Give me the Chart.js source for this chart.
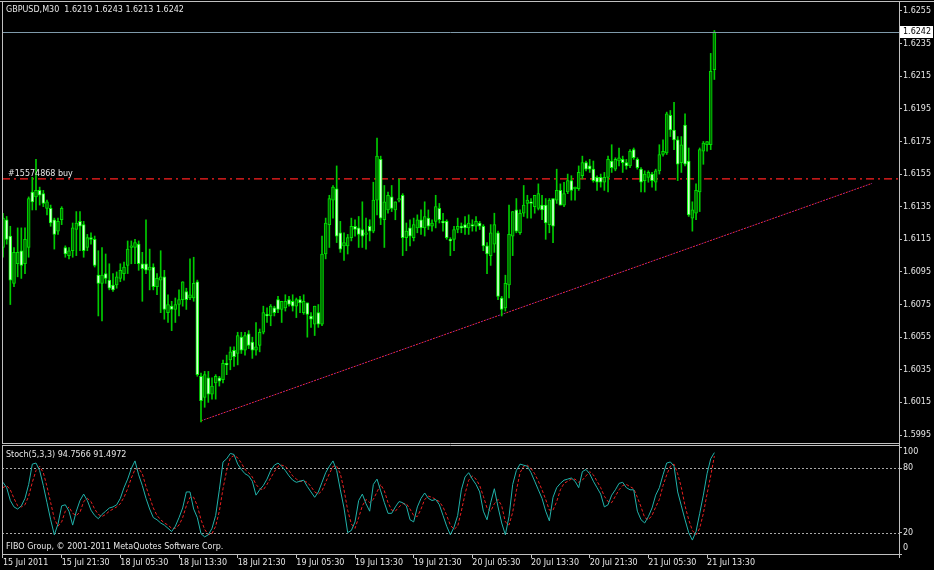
<!DOCTYPE html>
<html>
<head>
<meta charset="utf-8">
<title>GBPUSD,M30</title>
<script src="https://cdn.jsdelivr.net/npm/chart.js@4.4.1/dist/chart.umd.min.js"></script>
<style>
  html, body { margin: 0; padding: 0; background: #000; }
  #wrap { position: relative; width: 934px; height: 570px; background: #000; overflow: hidden; }
  #mainChart { position: absolute; left: 0; top: 0; }
  #stochChart { position: absolute; left: 0; top: 444px; }
</style>
</head>
<body>
<div id="wrap">
  <canvas id="mainChart" width="934" height="444"></canvas>
  <canvas id="stochChart" width="934" height="126"></canvas>
</div>
<script>
// ===== DATA =====
// prices are in pips above 1.6000 (1 pip = 0.0001), one entry per M30 bar
const SYMBOL = "GBPUSD,M30";
const BASE = 1.6;

const OPEN = [
  110,127,117,88,100,108,100,110,144,141,
  145,143,134,134,127,120,127,110,105,108,
  121,126,124,110,116,115,93,88,94,90,
  87,87,91,94,99,110,110,112,100,100,
  96,98,86,90,92,70,74,72,75,78,
  83,79,79,89,31,18,30,20,27,30,
  29,39,41,47,45,55,47,57,52,47,
  50,58,69,68,73,78,72,73,78,77,
  74,78,70,76,68,63,70,63,106,124,
  139,146,119,111,111,116,123,122,121,118,
  123,120,139,164,127,133,141,133,139,142,
  116,122,116,122,127,122,128,123,126,134,
  126,126,115,115,121,123,124,122,124,123,
  125,123,111,105,112,119,79,73,87,117,
  133,119,131,137,138,135,134,136,136,124,
  140,139,145,136,144,151,146,146,154,162,
  160,158,153,153,150,153,163,158,163,164,
  162,160,170,164,158,151,153,155,150,157,
  167,168,191,182,176,162,185,163,128,131,
  144,169,173,173,219
];
const HIGH = [
  131,129,123,110,122,122,122,141,153,164,
  147,145,139,136,128,128,135,111,110,125,
  132,132,126,118,119,117,108,110,106,100,
  94,95,100,101,114,114,115,114,107,127,
  109,100,94,108,96,81,77,79,84,89,
  85,103,104,90,33,34,34,30,32,31,
  41,44,49,49,58,58,58,59,55,64,
  60,74,73,75,74,80,77,81,80,81,
  79,80,81,76,70,74,75,117,128,142,
  148,160,126,119,118,128,127,129,138,128,
  127,150,177,166,148,144,148,138,152,143,
  125,127,128,130,133,138,133,127,142,137,
  131,127,116,123,128,125,129,130,127,129,
  126,124,113,124,131,120,80,93,136,132,
  140,133,148,142,140,142,149,142,140,140,
  140,158,149,150,155,154,147,160,166,163,
  164,163,154,155,156,166,173,165,171,166,
  164,170,171,165,159,157,157,156,158,173,
  176,193,194,199,178,178,192,171,138,149,
  171,175,175,229,243
];
const LOW = [
  104,112,75,86,92,91,94,104,133,133,
  136,135,130,123,109,118,124,104,103,104,
  105,108,104,108,112,98,68,65,88,84,
  83,85,89,90,94,100,100,96,77,94,
  84,84,81,70,66,64,59,64,68,74,
  72,78,77,31,3,12,15,17,17,25,
  27,32,35,37,38,45,44,48,42,44,
  46,57,64,62,68,70,64,71,74,71,
  67,70,69,55,61,56,61,62,103,110,
  128,113,107,102,106,114,117,110,110,109,
  114,119,130,124,110,131,132,127,138,105,
  108,111,114,119,118,117,121,120,122,125,
  120,115,105,108,119,119,118,118,120,120,
  121,108,94,99,107,78,68,71,79,105,
  119,118,129,128,128,131,133,127,115,119,
  113,137,136,135,143,139,139,145,152,157,
  156,150,145,147,145,144,156,157,160,156,
  158,159,164,158,144,144,150,147,145,155,
  166,167,178,170,151,156,160,129,120,127,
  132,161,169,170,213
];
const CLOSE = [
  128,115,90,107,107,99,115,140,138,145,
  142,137,138,125,118,126,134,106,108,122,
  125,123,108,116,115,99,88,93,91,85,
  84,92,96,98,109,111,113,100,97,96,
  98,86,91,92,72,75,72,75,78,89,
  78,81,88,32,16,32,20,25,31,28,
  39,38,46,43,56,47,56,50,47,49,
  58,70,68,74,70,72,77,77,75,74,
  78,76,77,69,66,74,63,106,125,140,
  147,117,109,113,116,123,121,118,117,119,
  120,139,166,128,138,142,134,138,140,116,
  120,117,124,127,122,129,123,125,135,127,
  125,116,114,121,123,122,122,125,123,126,
  123,111,106,119,124,80,72,88,118,132,
  120,131,136,139,137,142,143,133,125,139,
  123,145,136,143,151,145,147,156,162,158,
  158,151,150,150,153,164,159,164,165,162,
  160,169,165,159,150,155,156,151,157,167,
  169,192,182,176,161,173,161,130,133,145,
  170,174,175,218,242
];

// Stochastic(5,3,3): main (%K) and signal (%D)
const STOCH_MAIN = [
  67,62,50,44,42,45,52,65,84,85,
  78,64,48,32,18,28,45,46,40,27,
  40,50,56,50,41,36,33,37,40,43,
  44,46,52,62,70,80,87,74,64,52,
  42,34,32,29,27,24,21,26,34,43,
  58,58,42,34,19,16,18,24,36,60,
  86,89,94,93,84,79,75,73,68,55,
  60,64,70,78,83,85,82,78,73,69,
  67,68,69,63,58,53,58,67,76,82,
  87,78,60,43,20,22,30,50,56,47,
  40,65,70,59,48,38,38,44,49,48,
  45,32,30,44,52,57,52,50,51,46,
  36,26,18,25,36,60,72,76,70,65,
  58,40,32,48,61,44,29,18,35,65,
  78,84,83,82,76,68,60,52,40,31,
  53,62,66,69,70,71,68,62,77,79,
  75,68,62,56,44,46,55,60,66,67,
  62,60,60,40,32,29,35,43,55,62,
  74,85,86,82,58,45,32,20,13,21,
  38,55,75,89,94.7566
];
const STOCH_SIGNAL = [
  62,64,60,52,45,44,46,54,67,78,
  82,76,63,48,33,26,30,40,44,38,
  36,39,49,52,49,42,37,35,37,40,
  42,44,47,53,61,71,79,80,75,63,
  53,43,36,32,29,27,24,24,27,34,
  45,53,53,45,32,23,18,19,26,40,
  61,78,90,92,90,85,79,76,72,65,
  61,60,65,71,77,82,83,82,78,73,
  70,68,68,67,63,58,56,59,67,75,
  82,82,75,60,41,28,24,34,45,51,
  48,51,58,65,59,48,41,40,44,47,
  47,42,36,35,42,51,54,53,51,49,
  44,36,27,23,26,40,56,69,73,70,
  64,54,43,40,47,51,45,30,27,39,
  59,76,82,83,80,75,68,60,51,41,
  41,49,60,66,68,70,70,67,69,73,
  77,74,68,62,54,49,48,54,60,64,
  65,63,61,53,44,34,32,36,44,51,
  64,74,82,84,75,62,45,32,22,18,
  24,38,56,73,91.4972
];
const STOCH_LEVELS = [20, 80];
const STOCH_TICKS = [0, 20, 80, 100];

// time axis: one label every 16 bars (8 hours)
const TIME_STEP = 16;
const TIME_LABELS = [
  "15 Jul 2011", "15 Jul 21:30", "18 Jul 05:30", "18 Jul 13:30", "18 Jul 21:30",
  "19 Jul 05:30", "19 Jul 13:30", "19 Jul 21:30", "20 Jul 05:30", "20 Jul 13:30",
  "20 Jul 21:30", "21 Jul 05:30", "21 Jul 13:30"
];
const PRICE_TICKS = [
  1.5995, 1.6015, 1.6035, 1.6055, 1.6075, 1.6095, 1.6115,
  1.6135, 1.6155, 1.6175, 1.6195, 1.6215, 1.6235, 1.6255
];

// trend line (bar index, price) and the open order
const TREND_BARS = [54, 237];
const TREND_PRICES = [1.60037, 1.61493];
const ORDER_PRICE = 1.6152;
const ORDER_LABEL = "#15574868 buy";
const BID = 1.6242;

// ===== VIEW =====
const X_MIN = -0.27, X_MAX = 244.35;
const Y_MIN = 1.59901, Y_MAX = 1.62599;
const FONT = "8px 'DejaVu Sans', Tahoma, sans-serif";
const FONT_OPT = { family: "'DejaVu Sans', Tahoma, sans-serif", size: 8 };
const TEXT = "#e6e6e6";
const FRAME = "#c0c0c0";

const price = v => +(BASE + v / 10000).toFixed(5);
const fmt = v => v.toFixed(4);

const bodies = OPEN.map((o, i) => ({ x: i, y: [price(o), price(CLOSE[i])] }));
const wicks = HIGH.map((h, i) => ({ x: i, y: [price(LOW[i]), price(h)] }));
const isBull = OPEN.map((o, i) => CLOSE[i] >= o);

function hline(ctx, x1, x2, y) {
  ctx.beginPath(); ctx.moveTo(x1, y); ctx.lineTo(x2, y); ctx.stroke();
}
function vline(ctx, x, y1, y2) {
  ctx.beginPath(); ctx.moveTo(x, y1); ctx.lineTo(x, y2); ctx.stroke();
}
// keep the plot area exactly where the layout padding puts it
function noLabelPadding(s) {
  s.paddingTop = 0; s.paddingBottom = 0; s.paddingLeft = 0; s.paddingRight = 0;
}

// ===== MAIN PANE =====
const mainOverlay = {
  id: "mainOverlay",
  afterDatasetsDraw(chart) {
    const { ctx, chartArea: a, scales: { y } } = chart;
    ctx.save();
    ctx.font = FONT;
    ctx.fillStyle = TEXT;
    ctx.textBaseline = "bottom";
    ctx.fillText(ORDER_LABEL, a.left + 6, y.getPixelForValue(ORDER_PRICE) - 1);
    // bid line
    const by = Math.round(y.getPixelForValue(BID)) + 0.5;
    ctx.lineWidth = 1;
    ctx.strokeStyle = "#7f9aaa";
    hline(ctx, a.left, a.right, by);
    ctx.restore();
  },
  afterDraw(chart) {
    const { ctx, chartArea: a, scales: { y } } = chart;
    ctx.save();
    ctx.strokeStyle = FRAME;
    ctx.lineWidth = 1;
    hline(ctx, 0, 934, 1.5);
    vline(ctx, a.left + 0.5, 1, a.bottom);
    vline(ctx, a.right + 0.5, 1, 444);
    hline(ctx, a.left, a.right, a.bottom + 0.5);
    // header
    ctx.font = FONT;
    ctx.fillStyle = TEXT;
    ctx.textBaseline = "middle";
    const last = OPEN.length - 1;
    const head = SYMBOL + "  " + [OPEN[last], HIGH[last], LOW[last], CLOSE[last]].map(v => fmt(price(v))).join(" ");
    ctx.fillText(head, 6, 10);
    // bid price box on the axis
    const by = Math.round(y.getPixelForValue(BID));
    ctx.fillStyle = "#ffffff";
    ctx.fillRect(a.right + 1, by - 6, 33, 12);
    ctx.fillStyle = "#000000";
    ctx.fillText(fmt(BID), a.right + 4, by);
    ctx.restore();
  }
};

new Chart(document.getElementById("mainChart"), {
  type: "bar",
  data: {
    datasets: [
      {
        label: "body",
        data: bodies,
        backgroundColor: isBull.map(b => b ? "#006a00" : "#d8ffd8"),
        borderColor: isBull.map(b => b ? "#00e000" : "#00ff00"),
        borderWidth: 1,
        borderSkipped: false,
        barThickness: 3,
        minBarLength: 1,
        grouped: false,
        order: 0
      },
      {
        label: "wick",
        data: wicks,
        backgroundColor: "#00cc00",
        barThickness: 1,
        grouped: false,
        order: 1
      },
      {
        type: "line",
        label: "order",
        data: [{ x: X_MIN, y: ORDER_PRICE }, { x: X_MAX, y: ORDER_PRICE }],
        borderColor: "#ff2020",
        borderWidth: 1.2,
        borderDash: [8, 4, 2, 4],
        pointRadius: 0,
        order: 4
      },
      {
        type: "line",
        label: "trend",
        data: TREND_BARS.map((b, k) => ({ x: b, y: TREND_PRICES[k] })),
        borderColor: "#ff2a2a",
        borderWidth: 1,
        borderDash: [2, 4],
        pointRadius: 0,
        order: 2
      },
      {
        type: "line",
        label: "trend2",
        data: TREND_BARS.map((b, k) => ({ x: b, y: TREND_PRICES[k] })),
        borderColor: "#a228a2",
        borderWidth: 1,
        borderDash: [2, 4],
        borderDashOffset: 3,
        pointRadius: 0,
        order: 3
      }
    ]
  },
  options: {
    responsive: false,
    animation: false,
    events: [],
    layout: { autoPadding: false, padding: { left: 2, top: 3, right: 0, bottom: 1 } },
    plugins: { legend: { display: false }, tooltip: { enabled: false } },
    scales: {
      x: { type: "linear", min: X_MIN, max: X_MAX, offset: false, display: false },
      y: {
        type: "linear",
        position: "right",
        min: Y_MIN,
        max: Y_MAX,
        beginAtZero: false,
        afterBuildTicks: s => { s.ticks = PRICE_TICKS.map(v => ({ value: v })); },
        afterFit: s => { s.width = 35; noLabelPadding(s); },
        border: { display: false },
        grid: { drawOnChartArea: false, drawTicks: true, tickLength: 3, color: FRAME },
        ticks: { color: TEXT, font: FONT_OPT, padding: 1, callback: v => fmt(v) }
      }
    }
  },
  plugins: [mainOverlay]
});

// ===== STOCHASTIC PANE =====
const stochOverlay = {
  id: "stochOverlay",
  beforeDatasetsDraw(chart) {
    const { ctx, chartArea: a, scales: { y } } = chart;
    ctx.save();
    ctx.strokeStyle = "#a8a8a8";
    ctx.lineWidth = 1;
    ctx.setLineDash([2, 2]);
    STOCH_LEVELS.forEach(l => hline(ctx, a.left, a.right, Math.round(y.getPixelForValue(l)) + 0.5));
    ctx.restore();
  },
  afterDraw(chart) {
    const { ctx, chartArea: a, scales: { y } } = chart;
    ctx.save();
    ctx.strokeStyle = FRAME;
    ctx.lineWidth = 1;
    hline(ctx, a.left, a.right, 1.5);
    vline(ctx, a.left + 0.5, 1, a.bottom);
    vline(ctx, a.right + 0.5, 0, a.bottom + 4);
    hline(ctx, a.left, a.right, a.bottom + 0.5);
    ctx.font = FONT;
    ctx.fillStyle = TEXT;
    ctx.textBaseline = "middle";
    const n = STOCH_MAIN.length - 1;
    ctx.fillText("Stoch(5,3,3) " + STOCH_MAIN[n].toFixed(4) + " " + STOCH_SIGNAL[n].toFixed(4), 6, a.top + 8);
    ctx.fillText("FIBO Group, \u00a9 2001-2011 MetaQuotes Software Corp.", 6, a.bottom - 7);
    STOCH_TICKS.forEach(v => {
      let py = y.getPixelForValue(v);
      py = Math.min(Math.max(py, a.top + 5), a.bottom - 6);
      ctx.fillText(String(v), a.right + 4, py);
    });
    ctx.restore();
  }
};

new Chart(document.getElementById("stochChart"), {
  type: "line",
  data: {
    datasets: [
      {
        label: "main",
        data: STOCH_MAIN.map((v, i) => ({ x: i, y: v })),
        borderColor: "#20b2aa",
        borderWidth: 1,
        pointRadius: 0,
        order: 0
      },
      {
        label: "signal",
        data: STOCH_SIGNAL.map((v, i) => ({ x: i, y: v })),
        borderColor: "#e82020",
        borderWidth: 1,
        borderDash: [3, 2],
        pointRadius: 0,
        order: 1
      }
    ]
  },
  options: {
    responsive: false,
    animation: false,
    events: [],
    layout: { autoPadding: false, padding: { left: 2, top: 3, right: 0, bottom: 0 } },
    plugins: { legend: { display: false }, tooltip: { enabled: false } },
    scales: {
      x: {
        type: "linear",
        min: X_MIN,
        max: X_MAX,
        position: "bottom",
        afterBuildTicks: s => { s.ticks = TIME_LABELS.map((_, k) => ({ value: k * TIME_STEP })); },
        afterFit: s => { s.height = 16; noLabelPadding(s); },
        border: { display: false },
        grid: { drawOnChartArea: false, drawTicks: true, tickLength: 4, color: FRAME },
        ticks: {
          color: TEXT, font: FONT_OPT, padding: 0, align: "start",
          maxRotation: 0, autoSkip: false,
          callback: v => TIME_LABELS[Math.round(v / TIME_STEP)]
        }
      },
      y: {
        type: "linear",
        position: "right",
        min: 0,
        max: 100,
        afterBuildTicks: s => { s.ticks = STOCH_TICKS.map(v => ({ value: v })); },
        afterFit: s => { s.width = 35; noLabelPadding(s); },
        border: { display: false },
        grid: { drawOnChartArea: false, drawTicks: true, tickLength: 3, color: FRAME },
        ticks: { display: false }
      }
    }
  },
  plugins: [stochOverlay]
});
</script>
</body>
</html>
